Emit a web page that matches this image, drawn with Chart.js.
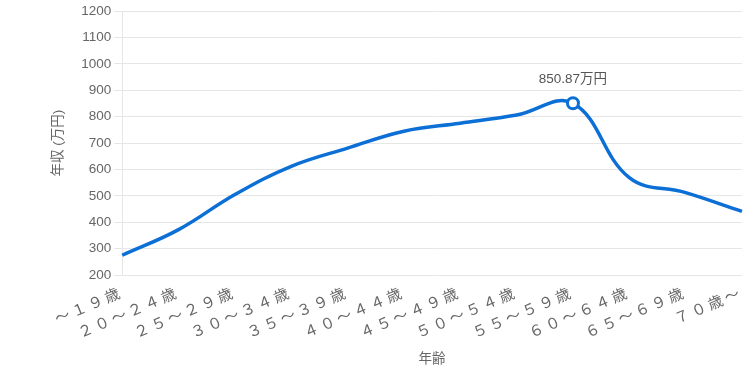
<!DOCTYPE html>
<html>
<head>
<meta charset="utf-8">
<script src="https://cdn.jsdelivr.net/npm/chart.js@4/dist/chart.umd.min.js"></script>
<style>
  html, body { margin: 0; padding: 0; background: #fff; }
  #wrap { width: 750px; height: 375px; }
</style>
</head>
<body>
<div id="wrap"><canvas id="chart"></canvas></div>
<script>
const ages = [
  "～１９歳", "２０～２４歳", "２５～２９歳", "３０～３４歳", "３５～３９歳", "４０～４４歳",
  "４５～４９歳", "５０～５４歳", "５５～５９歳", "６０～６４歳", "６５～６９歳", "７０歳～"
];
const income = [275, 372, 505, 612, 681, 745, 775, 806, 850.87, 569, 512, 441];
const peakIndex = 8;
const yTicks = [200, 1200, 100]; // min, max, step

const fontFamily = "'Liberation Sans', Arial, 'Noto Sans CJK JP', sans-serif";
const blue = "#0b6fd6";
const xSpacing = "3px";

// x tick labels are drawn after the datasets (ticks.z = 1), so the
// letter spacing is switched on only for them
const spacing = {
  id: "spacing",
  beforeLayout(chart) { chart.ctx.letterSpacing = xSpacing; },
  afterLayout(chart) { chart.ctx.letterSpacing = "0px"; },
  afterDatasetsDraw(chart) {
    const pt = chart.getDatasetMeta(0).data[peakIndex];
    const ctx = chart.ctx;
    ctx.save();
    ctx.letterSpacing = "0px";
    ctx.font = "13.5px " + fontFamily;
    ctx.fillStyle = "#555";
    ctx.textAlign = "center";
    ctx.textBaseline = "bottom";
    ctx.fillText(income[peakIndex] + "万円", pt.x, pt.y - 17);
    ctx.restore();
    ctx.letterSpacing = xSpacing;
  },
  afterDraw(chart) { chart.ctx.letterSpacing = "0px"; }
};

const ctx = document.getElementById("chart");
new Chart(ctx, {
  type: "line",
  data: {
    labels: ages,
    datasets: [{
      data: income,
      borderColor: blue,
      borderWidth: 3.5,
      tension: 0.4,
      fill: false,
      pointRadius: income.map((v, i) => (i === peakIndex ? 5.5 : 0)),
      pointHoverRadius: 0,
      pointBackgroundColor: "#fff",
      pointBorderColor: blue,
      pointBorderWidth: 3
    }]
  },
  options: {
    responsive: true,
    maintainAspectRatio: false,
    animation: false,
    layout: { padding: { left: 46, right: 8, top: 0, bottom: 4 } },
    plugins: { legend: { display: false }, tooltip: { enabled: false } },
    scales: {
      x: {
        grid: { display: false },
        border: { display: false },
        ticks: {
          z: 1,
          padding: 1,
          color: "#666",
          font: { family: fontFamily, size: 15 },
          minRotation: 23,
          maxRotation: 23,
          autoSkip: false
        },
        title: {
          display: true,
          text: "年齢",
          color: "#666",
          padding: { top: 7, bottom: 4 },
          font: { family: fontFamily, size: 13.5 }
        }
      },
      y: {
        min: yTicks[0],
        max: yTicks[1],
        grid: { color: "#e6e6e6", tickLength: 8 },
        border: { color: "#e6e6e6" },
        ticks: {
          stepSize: yTicks[2],
          color: "#666",
          font: { family: fontFamily, size: 13.5 },
          callback: (v) => String(v)
        },
        title: {
          display: true,
          text: "年収 (万円)",
          color: "#666",
          padding: { top: 4, bottom: 0 },
          font: { family: fontFamily, size: 13.5 }
        }
      }
    }
  },
  plugins: [spacing]
});
</script>
</body>
</html>
